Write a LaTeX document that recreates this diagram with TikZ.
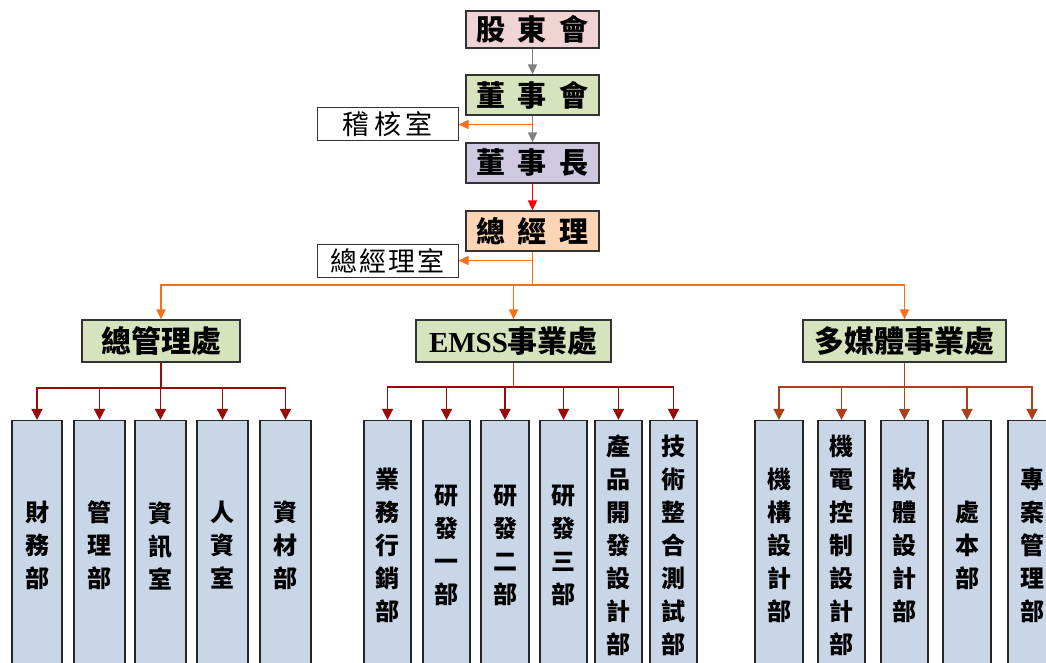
\documentclass[tikz,border=0pt]{standalone}
\usepackage{fontspec}
\newfontfamily\cjk{Noto Sans CJK TC}
\newfontfamily\latserif{Liberation Serif}
\usetikzlibrary{arrows.meta}
\definecolor{cpink}{RGB}{240,212,212}
\definecolor{cgreen}{RGB}{214,227,188}
\definecolor{clav}{RGB}{207,200,224}
\definecolor{cpeach}{RGB}{251,213,181}
\definecolor{cblue}{RGB}{200,214,232}
\definecolor{corange}{RGB}{250,110,20}
\definecolor{cdred}{RGB}{150,10,10}
\definecolor{cbrown}{RGB}{170,65,25}
\definecolor{cgray}{RGB}{128,128,128}
\tikzset{
  topbox/.style={draw=black!80, line width=1.2pt, minimum width=133pt, inner sep=0pt,
    font=\cjk\bfseries\fontsize{29}{30}\selectfont},
  sidebox/.style={draw=black!80, line width=1pt, fill=white, minimum width=141pt, minimum height=33pt, inner sep=0pt,
    font=\cjk\fontsize{27}{30}\selectfont},
  divbox/.style={draw=black!80, line width=1.2pt, fill=cgreen, minimum height=42pt, inner sep=0pt,
    font=\cjk\bfseries\fontsize{30}{30}\selectfont},
  deptbox/.style={draw=black!85, line width=1.2pt, fill=cblue, minimum height=250pt, inner sep=0pt,
    align=center, font=\cjk\bfseries\fontsize{24}{33}\selectfont},
  arr/.style={-{Triangle[width=11pt,length=11pt]}, line width=1.6pt},
  sarr/.style={-{Triangle[width=9pt,length=10pt]}, line width=1.6pt},
}
\begin{document}
\begin{tikzpicture}[x=1pt,y=-1pt]
\useasboundingbox (0,0) rectangle (1046,663);
\clip (0,0) rectangle (1046,663);
% top chain
\node[topbox, fill=cpink, minimum height=37pt] (gd) at (532.5,29.5) {股\hspace{13pt}東\hspace{13pt}會};
\node[topbox, fill=cgreen, minimum height=40pt] (dsh) at (532.5,95) {董\hspace{13pt}事\hspace{13pt}會};
\node[topbox, fill=clav, minimum height=40pt] (dsz) at (532.5,163) {董\hspace{13pt}事\hspace{13pt}長};
\node[topbox, fill=cpeach, minimum height=40pt] (zjl) at (532.5,231) {總\hspace{13pt}經\hspace{13pt}理};
\node[sidebox] (jh) at (387.5,124.5) {稽\hspace{5pt}核\hspace{5pt}室};
\node[sidebox] (zs) at (387.5,260.5) {總\hspace{2pt}經\hspace{2pt}理\hspace{2pt}室};
\draw[sarr, cgray] (gd.south) -- (dsh.north);
\draw[sarr, cgray] (dsh.south) -- (dsz.north);
\coordinate (j1) at (dsh.south |- jh.east);
\draw[sarr, corange] (j1) -- (jh.east);
\draw[sarr, red] (dsz.south) -- (zjl.north);
% divisions
\node[divbox, minimum width=158pt] (g1) at (161,341) {總管理處};
\node[divbox, minimum width=195pt] (g2) at (513.5,341) {{\latserif\bfseries\fontsize{29}{30}\selectfont EMSS}事業處};
\node[divbox, minimum width=203pt] (g3) at (904.5,341) {多媒體事業處};
\coordinate (j2) at (zjl.south |- zs.east);
\coordinate (bus) at (532.5,285);
\draw[line width=1.6pt, corange] (zjl.south) -- (bus);
\draw[sarr, corange] (j2) -- (zs.east);
\draw[sarr, corange] (bus) -| (g1.north);
\draw[sarr, corange] (bus) -| (g2.north);
\draw[sarr, corange] (bus) -| (g3.north);
% departments of g1
\node[deptbox, minimum width=50pt] (a1) at (37,545.5) {財\\務\\部};
\node[deptbox, minimum width=51pt] (a2) at (99.5,545.5) {管\\理\\部};
\node[deptbox, minimum width=51pt] (a3) at (160.5,545.5) {資\\訊\\室};
\node[deptbox, minimum width=51pt] (a4) at (222.5,545.5) {人\\資\\室};
\node[deptbox, minimum width=51pt] (a5) at (285.5,545.5) {資\\材\\部};
\coordinate (ba) at (161,388);
\draw[line width=1.6pt, cdred] (g1.south) -- (ba);
\foreach \n in {a1,a2,a3,a4,a5} \draw[arr, cdred] (ba) -| (\n.north);
% departments of g2
\node[deptbox, minimum width=47pt] (b1) at (387.5,545.5) {業\\務\\行\\銷\\部};
\node[deptbox, minimum width=47pt] (b2) at (446.5,545.5) {研\\發\\一\\部};
\node[deptbox, minimum width=48pt] (b3) at (505,545.5) {研\\發\\二\\部};
\node[deptbox, minimum width=47pt] (b4) at (563.5,545.5) {研\\發\\三\\部};
\node[deptbox, minimum width=47pt] (b5) at (618.5,545.5) {產\\品\\開\\發\\設\\計\\部};
\node[deptbox, minimum width=47pt] (b6) at (673.5,545.5) {技\\術\\整\\合\\測\\試\\部};
\coordinate (bb) at (513.5,387);
\draw[line width=1.6pt, cbrown] (g2.south) -- (bb);
\foreach \n in {b1,b2,b3,b4,b5,b6} \draw[arr, cdred] (bb) -| (\n.north);
% departments of g3
\node[deptbox, minimum width=48pt] (c1) at (779,545.5) {機\\構\\設\\計\\部};
\node[deptbox, minimum width=47pt] (c2) at (841.5,545.5) {機\\電\\控\\制\\設\\計\\部};
\node[deptbox, minimum width=47pt] (c3) at (904.5,545.5) {軟\\體\\設\\計\\部};
\node[deptbox, minimum width=48pt] (c4) at (967,545.5) {處\\本\\部};
\node[deptbox, minimum width=48pt] (c5) at (1032,545.5) {專\\案\\管\\理\\部};
\coordinate (bc) at (904.5,387);
\draw[line width=1.6pt, cbrown] (g3.south) -- (bc);
\foreach \n in {c1,c2,c3,c4,c5} \draw[arr, cbrown] (bc) -| (\n.north);
\end{tikzpicture}
\end{document}
